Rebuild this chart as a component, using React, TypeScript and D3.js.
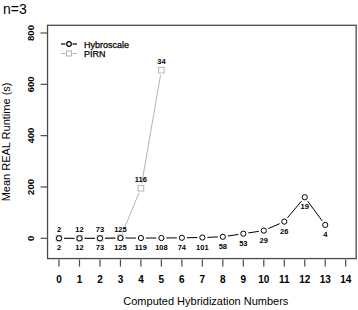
import React from "react";
import * as d3 from "d3";

const hybNumbers = [0, 1, 2, 3, 4, 5, 6, 7, 8, 9, 10, 11, 12, 13];
const hybRuntime = [0, 0, 0, 1, 1, 1, 2, 3, 6, 18, 30, 65, 160, 52];
const hybCounts = [2, 12, 73, 125, 119, 108, 74, 101, 58, 53, 29, 26, 19, 4];

const pirnNumbers = [0, 1, 2, 3, 4, 5];
const pirnRuntime = [0, 0, 0, 2, 195, 655];
const pirnCounts = [2, 12, 73, 125, 116, 34];

const xTicks = [0, 1, 2, 3, 4, 5, 6, 7, 8, 9, 10, 11, 12, 13, 14];
const yTicks = [0, 200, 400, 600, 800];

const W = 358;
const H = 310;
const FONT = "'Liberation Sans', Arial, Helvetica, sans-serif";

function gapSegments(pts: [number, number][], gap: number) {
  const segs: { x1: number; y1: number; x2: number; y2: number }[] = [];
  for (let i = 0; i < pts.length - 1; i++) {
    const [ax, ay] = pts[i];
    const [bx, by] = pts[i + 1];
    const dx = bx - ax;
    const dy = by - ay;
    const len = Math.hypot(dx, dy);
    if (len <= 2 * gap) continue;
    const ux = dx / len;
    const uy = dy / len;
    segs.push({ x1: ax + ux * gap, y1: ay + uy * gap, x2: bx - ux * gap, y2: by - uy * gap });
  }
  return segs;
}

export default function App() {
  const x = d3.scaleLinear().domain([0, 14]).range([59, 345.7]);
  const y = d3.scaleLinear().domain([0, 800]).range([238.3, 33]);

  const boxL = x(-0.56);
  const boxR = x(14.56) - 1;
  const boxT = y(830);
  const boxB = y(-79);

  const hybPts: [number, number][] = hybNumbers.map((n, i) => [x(n), y(hybRuntime[i])]);
  const pirnPts: [number, number][] = pirnNumbers.map((n, i) => [x(n), y(pirnRuntime[i])]);

  const gray = "#b4b4b4";
  const axisCol = "#4a4a4a";

  return (
    <svg width={W} height={H} style={{ position: "absolute", left: 0, top: 0, background: "#fff" }}>
      <rect x={0} y={0} width={W} height={H} fill="#fff" />
      <text x={3} y={14} fontFamily={FONT} fontSize={14} fill="#000">n=3</text>

      {/* box */}
      <rect x={boxL} y={boxT} width={boxR - boxL} height={boxB - boxT} fill="none" stroke={axisCol} strokeWidth={1.3} />

      {/* y axis */}
      {yTicks.map((t) => (
        <g key={"y" + t}>
          <line x1={boxL - 7} x2={boxL} y1={y(t)} y2={y(t)} stroke={axisCol} strokeWidth={1.2} />
          <text
            transform={`translate(${33.5},${y(t)}) rotate(-90)`}
            textAnchor="middle"
            fontFamily={FONT}
            fontSize={9.5}
            fontWeight="bold"
            fill="#000"
          >
            {t}
          </text>
        </g>
      ))}
      <text
        transform={`translate(${9.5},${(boxT + boxB) / 2}) rotate(-90)`}
        textAnchor="middle"
        fontFamily={FONT}
        fontSize={11}
        fill="#000"
      >
        Mean REAL Runtime (s)
      </text>

      {/* x axis */}
      {xTicks.map((t) => (
        <g key={"x" + t}>
          <line x1={x(t)} x2={x(t)} y1={boxB + 1} y2={boxB + 8} stroke={axisCol} strokeWidth={1.2} />
          <text x={x(t)} y={283} textAnchor="middle" fontFamily={FONT} fontSize={10} fontWeight="bold" fill="#000">
            {t}
          </text>
        </g>
      ))}
      <text x={(boxL + boxR) / 2 + 4} y={305} textAnchor="middle" fontFamily={FONT} fontSize={11} fill="#000">
        Computed Hybridization Numbers
      </text>

      {/* PIRN series */}
      {gapSegments(pirnPts, 5).map((s, i) => (
        <line key={"ps" + i} {...s} stroke={gray} strokeWidth={1} />
      ))}
      {pirnPts.map(([px, py], i) => (
        <rect key={"pp" + i} x={px - 2.8} y={py - 2.8} width={5.6} height={5.6} fill="none" stroke={gray} strokeWidth={1} />
      ))}
      {pirnPts.map(([px, py], i) => (
        <text key={"pl" + i} x={px} y={py - 6} textAnchor="middle" fontFamily={FONT} fontSize={7.5} fontWeight="bold" fill="#000">
          {pirnCounts[i]}
        </text>
      ))}

      {/* Hybroscale series */}
      {gapSegments(hybPts, 5).map((s, i) => (
        <line key={"hs" + i} {...s} stroke="#000" strokeWidth={1} />
      ))}
      {hybPts.map(([px, py], i) => (
        <circle key={"hp" + i} cx={px} cy={py} r={2.6} fill="none" stroke="#000" strokeWidth={1} />
      ))}
      {hybPts.map(([px, py], i) => (
        <text key={"hl" + i} x={px} y={py + 12} textAnchor="middle" fontFamily={FONT} fontSize={7.5} fontWeight="bold" fill="#000">
          {hybCounts[i]}
        </text>
      ))}

      {/* legend */}
      <g>
        <line x1={61} x2={65.5} y1={44} y2={44} stroke="#000" strokeWidth={1.2} />
        <line x1={72.5} x2={77} y1={44} y2={44} stroke="#000" strokeWidth={1.2} />
        <circle cx={69} cy={44} r={2.3} fill="none" stroke="#000" strokeWidth={1.2} />
        <text x={84} y={47.5} fontFamily={FONT} fontSize={9} fill="#000" stroke="#000" strokeWidth={0.25}>Hybroscale</text>
        <line x1={61} x2={65.5} y1={53.5} y2={53.5} stroke={gray} strokeWidth={1} />
        <line x1={72.5} x2={77} y1={53.5} y2={53.5} stroke={gray} strokeWidth={1} />
        <rect x={66.5} y={51} width={5} height={5} fill="none" stroke={gray} strokeWidth={1} />
        <text x={84} y={57} fontFamily={FONT} fontSize={9} fill="#000" stroke="#000" strokeWidth={0.25}>PIRN</text>
      </g>
    </svg>
  );
}
